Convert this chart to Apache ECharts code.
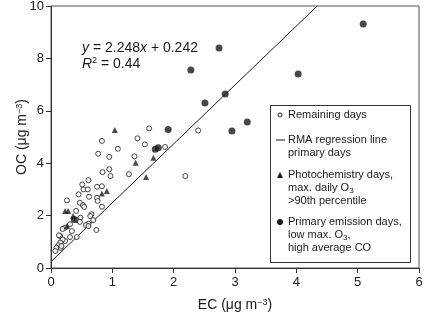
<!DOCTYPE html>
<html>
<head>
<meta charset="utf-8">
<script src="https://cdn.jsdelivr.net/npm/echarts@6/dist/echarts.min.js"></script>
<style>
  html, body { margin: 0; padding: 0; background: #fff; }
  #chart { width: 424px; height: 313px; }
</style>
</head>
<body>
<div id="chart"></div>
<script>
// EC (x) vs OC (y), ug m-3
var remainingDays = [
  [1.60,5.33],[1.86,4.62],[1.41,4.95],[1.53,4.72],[1.09,4.55],[0.83,4.85],[0.77,4.36],
  [0.95,4.24],[1.36,4.26],[0.84,3.66],[0.95,3.77],[0.97,3.51],[1.27,3.58],[2.19,3.51],
  [2.40,5.25],[0.61,3.35],[0.51,3.19],[0.53,3.00],[0.60,3.00],[0.75,3.10],[0.83,3.12],
  [0.62,2.72],[0.75,2.68],[0.76,2.56],[0.45,2.81],[0.26,2.58],[0.47,2.49],[0.52,2.40],
  [0.54,2.33],[0.83,2.34],[0.41,2.18],[0.66,2.05],[0.64,1.98],[0.69,1.83],[0.61,1.69],
  [0.57,1.64],[0.61,1.60],[0.48,1.92],[0.42,1.83],[0.47,1.76],[0.31,1.67],[0.23,1.54],
  [0.19,1.49],[0.34,1.41],[0.74,1.45],[0.42,1.18],[0.31,1.18],[0.15,1.22],[0.13,1.25],
  [0.23,1.03],[0.19,1.09],[0.15,0.97],[0.12,0.87],[0.09,0.77],[0.07,0.65],[0.16,0.77],
  [0.17,0.84]
];
var photochemDays = [
  [1.04,5.27],[1.38,4.02],[1.67,4.21],[1.55,3.47],[0.91,2.94],[0.83,2.84],
  [0.23,2.18],[0.28,2.18],[0.26,1.60],[0.36,1.98]
];
var primaryDays = [
  [2.74,8.40],[2.28,7.56],[2.51,6.30],[2.84,6.64],[2.95,5.23],[3.20,5.57],
  [4.03,7.40],[5.09,9.31],[1.91,5.29],[1.70,4.53],[1.75,4.59],[0.38,1.85]
];
// RMA regression (primary days)
var slope = 2.248;
var intercept = 0.242;
var xTicks = [0, 6, 1];   // min, max, interval
var yTicks = [0, 10, 2];

var font = 'Liberation Sans, Arial, sans-serif';
var ink = '#1a1a1a';
var yTop = yTicks[1];
var rmaLine = [[0, intercept], [(yTop - intercept) / slope, yTop]];

var chart = echarts.init(document.getElementById('chart'));

var nameRich = {
  a: { fontSize: 14, fontFamily: font, color: ink },
  s: { fontSize: 9, fontFamily: font, color: ink, verticalAlign: 'top', padding: [0, 0, 6, 0] }
};
var legRich = {
  t: { fontSize: 11, fontFamily: font, color: ink, lineHeight: 13 },
  sub: { fontSize: 8, fontFamily: font, color: ink, verticalAlign: 'bottom', padding: [4, 0, 0, 0], lineHeight: 13 }
};

function legendText(y, txt) {
  return {
    type: 'text', left: 288, top: y, z: 11,
    style: { text: txt, rich: legRich, font: '11px ' + font, fill: ink, lineHeight: 13 }
  };
}

chart.setOption({
  animation: false,
  grid: {
    left: 51, right: 5, top: 6, bottom: 45,
    outerBoundsMode: 'none',
    containLabel: false,
    show: true, borderColor: '#555', borderWidth: 1
  },
  xAxis: {
    type: 'value',
    min: xTicks[0], max: xTicks[1], interval: xTicks[2],
    name: '{a|EC (μg m}{s|−3}{a|)}',
    nameLocation: 'middle', nameGap: 30,
    nameMoveOverlap: false,
    nameTextStyle: { rich: nameRich },
    axisLine: { show: true, lineStyle: { color: '#333', width: 1 } },
    axisTick: { show: true, inside: false, length: 5, lineStyle: { color: '#333' } },
    axisLabel: { fontSize: 13, fontFamily: font, color: ink, margin: 8 },
    splitLine: { show: false }
  },
  yAxis: {
    type: 'value',
    min: yTicks[0], max: yTicks[1], interval: yTicks[2],
    name: '{a|OC (μg m}{s|−3}{a|)}',
    nameLocation: 'middle', nameGap: 21,
    nameMoveOverlap: false,
    nameTextStyle: { rich: nameRich },
    axisLine: { show: true, lineStyle: { color: '#333', width: 1 } },
    axisTick: { show: true, inside: false, length: 5, lineStyle: { color: '#333' } },
    axisLabel: { fontSize: 13, fontFamily: font, color: ink, margin: 7 },
    splitLine: { show: false }
  },
  series: [
    {
      name: 'RMA regression line',
      type: 'line',
      data: rmaLine,
      symbol: 'none',
      lineStyle: { color: ink, width: 1 },
      z: 1
    },
    {
      name: 'Remaining days',
      type: 'scatter',
      data: remainingDays,
      symbol: 'circle',
      symbolSize: 5,
      itemStyle: { color: '#fff', borderColor: ink, borderWidth: 1 },
      z: 2
    },
    {
      name: 'Photochemistry days',
      type: 'scatter',
      data: photochemDays,
      symbol: 'triangle',
      symbolSize: 6,
      itemStyle: { color: ink },
      z: 3
    },
    {
      name: 'Primary emission days',
      type: 'scatter',
      data: primaryDays,
      symbol: 'circle',
      symbolSize: 7,
      itemStyle: { color: ink },
      z: 4
    }
  ],
  graphic: [
    // regression equation
    {
      type: 'text', left: 82, top: 40,
      style: {
        text: '{i|y} = 2.248{i|x} + 0.242\n{i|R}{s|2} = 0.44',
        lineHeight: 16,
        rich: {
          i: { fontStyle: 'italic', fontSize: 14, fontFamily: font, color: ink, lineHeight: 16 },
          s: { fontSize: 9, fontFamily: font, color: ink, verticalAlign: 'top', lineHeight: 16, padding: [0, 0, 6, 0] }
        },
        font: '14px ' + font, fill: ink
      }
    },
    // legend box
    {
      type: 'rect', z: 10,
      shape: { x: 270.5, y: 105.5, width: 140, height: 157 },
      style: { fill: '#fff', stroke: '#333', lineWidth: 1 }
    },
    { type: 'circle', z: 11, shape: { cx: 280, cy: 115, r: 2 }, style: { fill: '#fff', stroke: ink, lineWidth: 1 } },
    { type: 'line', z: 11, shape: { x1: 276, y1: 140, x2: 285, y2: 140 }, style: { stroke: ink, lineWidth: 1 } },
    { type: 'polygon', z: 11, shape: { points: [[280, 172], [277, 178], [283, 178]] }, style: { fill: ink } },
    { type: 'circle', z: 11, shape: { cx: 280, cy: 222, r: 3 }, style: { fill: ink } },
    legendText(108.5, '{t|Remaining days}'),
    legendText(133.5, '{t|RMA regression line}\n{t|primary days}'),
    legendText(168.5, '{t|Photochemistry days,}\n{t|max. daily O}{sub|3}\n{t|>90th percentile}'),
    legendText(215.5, '{t|Primary emission days,}\n{t|low max. O}{sub|3}{t|,}\n{t|high average CO}')
  ]
});
</script>
</body>
</html>
